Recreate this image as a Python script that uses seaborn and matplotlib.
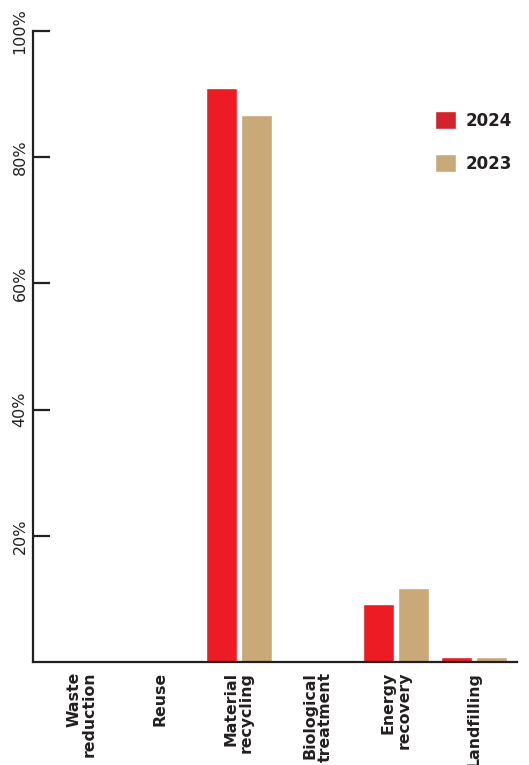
import matplotlib
matplotlib.use("Agg")
import matplotlib.pyplot as plt
import seaborn as sns
import pandas as pd
from matplotlib.ticker import FixedLocator, FuncFormatter

categories = ["Waste\nreduction", "Reuse", "Material\nrecycling",
              "Biological\ntreatment", "Energy\nrecovery", "Landfilling"]
values_2024 = [0.0, 0.0, 91.0, 0.0, 9.2, 0.8]
values_2023 = [0.0, 0.0, 86.7, 0.0, 11.8, 0.8]
years = ["2024", "2023"]
y_ticks = [20, 40, 60, 80, 100]

df = pd.DataFrame({
    "category": categories * 2,
    "year": [years[0]] * len(categories) + [years[1]] * len(categories),
    "value": values_2024 + values_2023,
})

sns.set_theme(style="white")
plt.rcParams["font.family"] = ["DejaVu Sans"]
dark = "#231f20"
palette = {"2024": "#ED1C24", "2023": "#C8A977"}

fig = plt.figure(figsize=(5.29, 7.65), dpi=100)
ax = fig.add_axes([0.0624, 0.1346, 0.9146, 0.8249])

sns.barplot(data=df, x="category", y="value", hue="year", hue_order=years,
            palette=palette, width=0.89, gap=0.11, saturation=1,
            order=categories, ax=ax, legend=True)

ax.set_ylim(0, 100)
ax.set_xlim(-0.62, 5.54)
ax.set_xlabel("")
ax.set_ylabel("")

for s in ["top", "right"]:
    ax.spines[s].set_visible(False)
for s in ["left", "bottom"]:
    ax.spines[s].set_color(dark)
    ax.spines[s].set_linewidth(1.6)
    ax.spines[s].set_zorder(5)

ax.yaxis.set_major_locator(FixedLocator(y_ticks))
ax.yaxis.set_major_formatter(FuncFormatter(lambda v, p: f"{int(v)}%"))
ax.tick_params(axis="y", direction="in", length=12, width=1.6, color=dark,
               pad=4, labelsize=11.5, labelcolor=dark, left=True)
for lab in ax.get_yticklabels():
    lab.set_rotation(90)
    lab.set_va("center")

ax.tick_params(axis="x", length=0, pad=7, labelsize=11.3, labelcolor=dark)
for lab in ax.get_xticklabels():
    lab.set_rotation(90)
    lab.set_ha("center")
    lab.set_va("top")
    lab.set_fontweight("bold")
    lab.set_multialignment("right")
    lab.set_linespacing(1.05)

leg = ax.legend(loc="upper left", bbox_to_anchor=(0.83, 0.873),
                frameon=False, borderaxespad=0, borderpad=0,
                handlelength=1.3, handleheight=1.3, handletextpad=0.55,
                labelspacing=1.45, prop={"weight": "bold", "size": 12})
for t in leg.get_texts():
    t.set_color(dark)
handles = leg.legend_handles
handles[0].set_facecolor("#D2232A")
handles[1].set_facecolor("#C8AA78")

fig.savefig("out.png", dpi=100)
